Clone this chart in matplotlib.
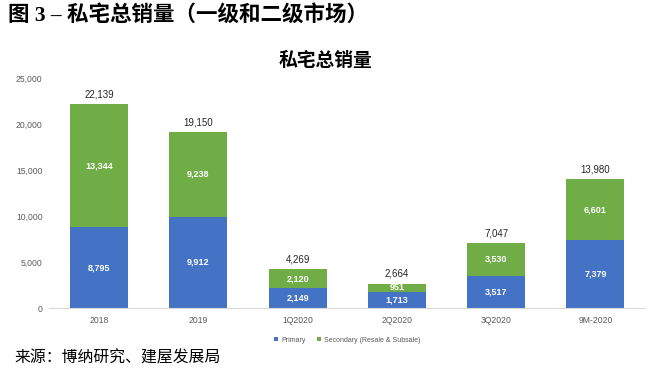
import matplotlib.pyplot as plt
import numpy as np

categories = ["2018", "2019", "1Q2020", "2Q2020", "3Q2020", "9M-2020"]
primary = [8795, 9912, 2149, 1713, 3517, 7379]
secondary = [13344, 9238, 2120, 951, 3530, 6601]
totals = [22139, 19150, 4269, 2664, 7047, 13980]
yticks = [0, 5000, 10000, 15000, 20000, 25000]

plt.rcParams['font.family'] = ['Liberation Sans', 'DejaVu Sans']
cjk = ['Noto Sans CJK SC', 'DejaVu Sans']
mixed = ['Liberation Serif', 'Noto Sans CJK SC']
blue = "#4472C4"
green = "#70AD47"

fig = plt.figure(figsize=(6.53, 3.72), dpi=100)
ax = fig.add_axes([0.0758, 0.172, 0.912, 0.618])

x = np.arange(len(categories))
w = 0.585
ax.bar(x, primary, w, color=blue, label="Primary")
ax.bar(x, secondary, w, bottom=primary, color=green, label="Secondary (Resale & Subsale)")

for i in range(len(categories)):
    ax.text(x[i], primary[i] / 2, f"{primary[i]:,}", ha="center", va="center",
            color="white", fontsize=6.5, fontweight="bold")
    ax.text(x[i], primary[i] + secondary[i] / 2, f"{secondary[i]:,}", ha="center",
            va="center", color="white", fontsize=6.5, fontweight="bold")
    ax.text(x[i], totals[i] + 500, f"{totals[i]:,}", ha="center", va="bottom",
            color="#262626", fontsize=7)

ax.set_xlim(-0.5, len(categories) - 0.5)
ax.set_ylim(0, 25000)
ax.set_yticks(yticks)
ax.set_yticklabels([f"{v:,}" for v in yticks])
ax.set_xticks(x)
ax.set_xticklabels(categories)
ax.tick_params(axis="both", length=0, labelsize=6.2, labelcolor="#595959")
ax.tick_params(axis="x", pad=6)
ax.tick_params(axis="y", pad=5)
for s in ["top", "right", "left"]:
    ax.spines[s].set_visible(False)
ax.spines["bottom"].set_color("#D9D9D9")

ax.legend(loc="center", bbox_to_anchor=(0.5, -0.14), ncol=2, frameon=False,
          fontsize=5.0, labelcolor="#595959", handlelength=0.6, handleheight=0.6,
          columnspacing=1.7, handletextpad=0.4)

fig.text(0.012, 0.958, "图 3 – 私宅总销量（一级和二级市场）", family=mixed,
         fontsize=15.5, fontweight="bold", va="center", ha="left")
fig.text(0.4977, 0.838, "私宅总销量", family=cjk, fontsize=13.5,
         fontweight="bold", va="center", ha="center")
fig.text(0.022, 0.037, "来源：博纳研究、建屋发展局", family=cjk, fontsize=11.4,
         va="center", ha="left")

fig.savefig("out.png", dpi=100)
